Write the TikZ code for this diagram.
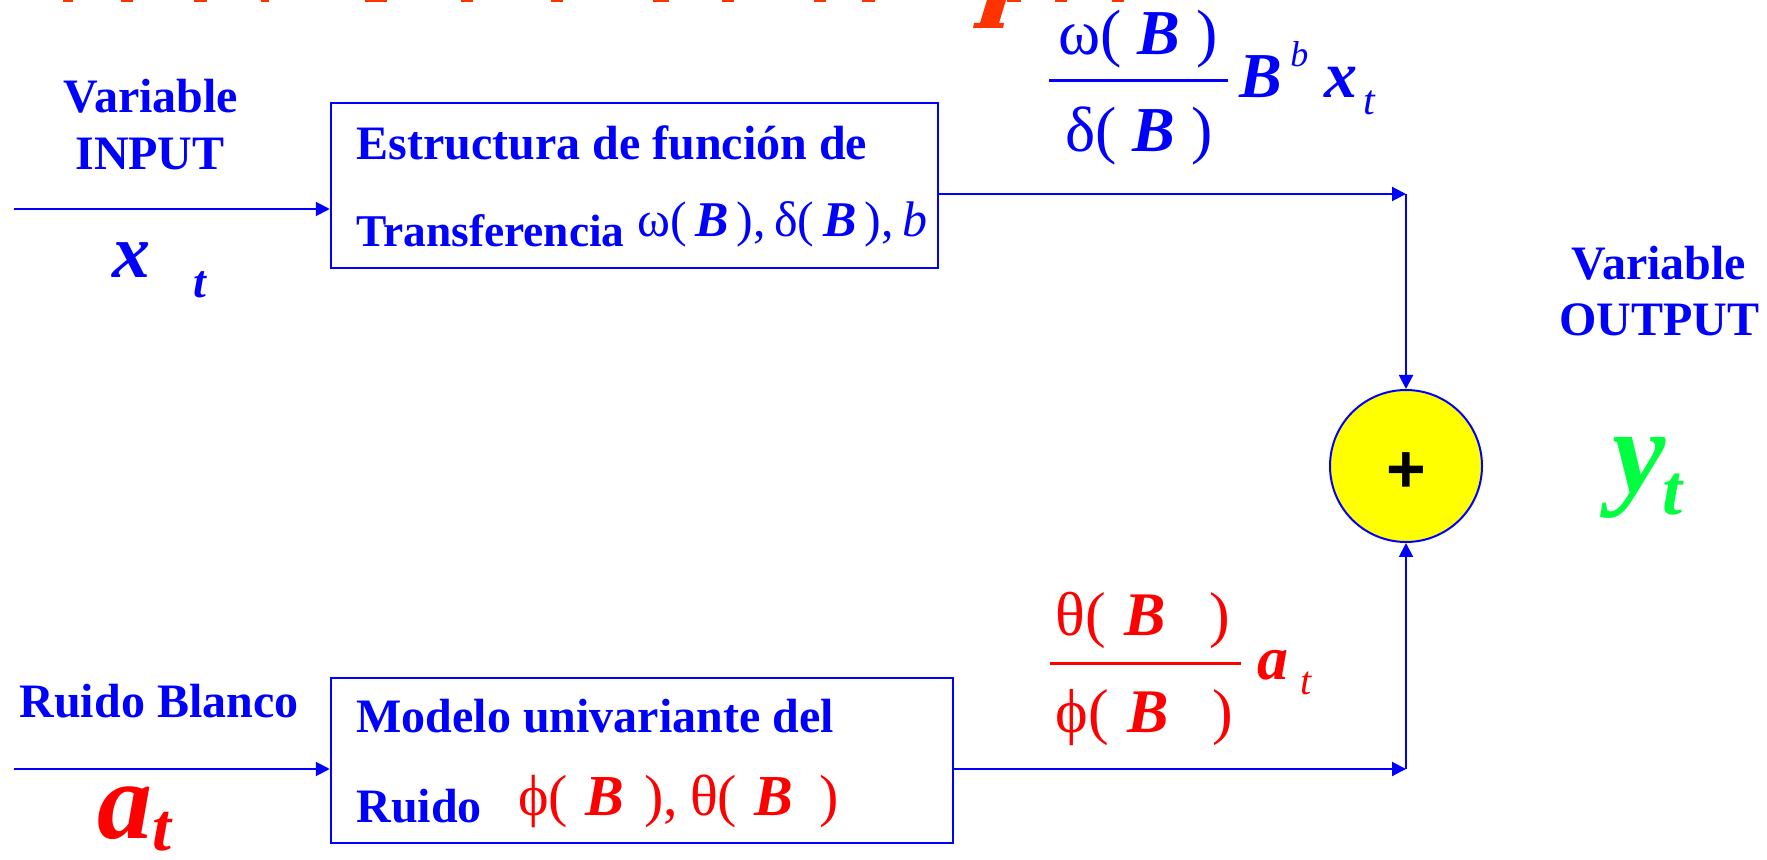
\documentclass[tikz,border=0pt]{standalone}
\usepackage{fontspec}
\setmainfont{Liberation Serif}
\newfontfamily\sansf{Liberation Sans}
\usetikzlibrary{arrows.meta}
\definecolor{pblue}{RGB}{0,0,255}
\definecolor{pred}{RGB}{255,0,0}
\definecolor{pgreen}{RGB}{0,255,64}
\definecolor{porange}{RGB}{255,51,0}
\definecolor{pyellow}{RGB}{255,255,0}
\newcommand\fsz[1]{\fontsize{#1}{#1}\selectfont}
\newcommand\bi[1]{\textbf{\textit{#1}}}
\begin{document}
\begin{tikzpicture}[x=0.5pt,y=-0.5pt,
  boxst/.style={draw=pblue,line width=1.25pt,rectangle,inner sep=0pt},
  txt/.style={inner sep=0pt,anchor=base west,text=pblue,font=\fsz{24}\bfseries},
  ctxt/.style={inner sep=0pt,anchor=base,text=pblue,font=\fsz{24}\bfseries},
  sym/.style={inner sep=0pt,anchor=base west},
  csym/.style={inner sep=0pt,anchor=base},
  conn/.style={draw=pblue,line width=1pt},
  arr/.style={conn,-{Triangle[length=7pt,width=7pt]}},
  fbar/.style={line width=1.5pt},
]
\fill[white] (0,0) rectangle (1767,860);
\useasboundingbox (0,0) rectangle (1767,860);

% clipped title fragments at the top edge
\foreach \cx/\w in {68/10,127/12,200/13,265/8,376/22,467/12,557/12,661/16,728/12,820/12,868/13,1014/14,1061/12,1118/12}{
  \fill[porange] ({\cx-\w/2},0) rectangle ({\cx+\w/2},2.5);
}
\fill[porange] (987,0) -- (1006,0) -- (999,23) -- (1004,23) -- (1003,28) -- (973,28) -- (974,23) -- (980,23) -- cycle;

% boxes
\node[boxst,minimum width=303.5pt,minimum height=82.5pt] (tbox) at (634.5,185.5) {};
\node[boxst,minimum width=311pt,minimum height=82.5pt] (bbox) at (642,760.5) {};

\node[txt] (t1) at (356,160) {Estructura de función de};
\node[txt,font=\fsz{22.7}\bfseries] (t2) at (356,247) {Transferencia};
\node[sym,text=pblue,font=\fsz{25}] (tm) at (637,237) {ω(\,\bi{B}\,),\,δ(\,\bi{B}\,),\,\textit{b}};

\node[txt] (m1) at (356,733) {Modelo univariante del};
\node[txt] (m2) at (356,822) {Ruido};
\node[sym,text=pred,font=\fsz{29}] (mm) at (518,815) {ϕ(\hspace{0.3em}\bi{B}\hspace{0.35em}),\hspace{0.2em}θ(\hspace{0.3em}\bi{B}\hspace{0.45em})};

% side labels
\node[ctxt] (vin1) at (151,113) {Variable};
\node[ctxt] (vin2) at (150,170) {INPUT};
\node[sym,text=pblue,font=\fsz{38}] (xx) at (112,278) {\bi{x}};
\node[sym,text=pblue,font=\fsz{23}] (xt) at (193,298) {\bi{t}};

\node[ctxt] (rb) at (159,718) {Ruido Blanco};
\node[sym,text=pred,font=\fsz{55}] (aa) at (97,838) {\bi{a}};
\node[sym,text=pred,font=\fsz{34}] (at) at (152,850) {\bi{t}};

\node[ctxt] (vo1) at (1659,280) {Variable};
\node[ctxt] (vo2) at (1659,336) {OUTPUT};
\node[sym,text=pgreen,font=\fsz{60}] (yy) at (1612,493) {\bi{y}};
\node[sym,text=pgreen,font=\fsz{36}] (yt) at (1662,515) {\bi{t}};

% summing junction
\node[circle,draw=pblue,fill=pyellow,line width=1pt,minimum size=76pt,inner sep=0pt] (sum) at (1406,466) {};
\node[font=\sansf\bfseries\fsz{34},inner sep=0pt] (plus) at (1406,473) {+};

% top fraction
\node[csym,text=pblue,font=\fsz{32}] (n1) at (1138,55) {ω(\ \bi{B}\ )};
\draw[pblue,fbar] (1049,81) -- (1228,81);
\node[csym,text=pblue,font=\fsz{32}] (d1) at (1139,152) {δ(\ \bi{B}\ )};
\node[sym,text=pblue,font=\fsz{32}] (bb) at (1239,98) {\bi{B}};
\node[sym,text=pblue,font=\fsz{18}] (bsup) at (1290,67) {\textit{b}};
\node[sym,text=pblue,font=\fsz{33}] (bx) at (1324,98) {\bi{x}};
\node[sym,text=pblue,font=\fsz{21}] (bxt) at (1363,115) {\textit{t}};

% bottom fraction
\node[sym,text=pred,font=\fsz{31}] (n2) at (1055,636) {θ(\hspace{0.3em}\bi{B}\hspace{0.7em})};
\draw[pred,fbar] (1050,664) -- (1241,664);
\node[sym,text=pred,font=\fsz{31}] (d2) at (1055,733) {ϕ(\hspace{0.3em}\bi{B}\hspace{0.7em})};
\node[sym,text=pred,font=\fsz{31}] (fa) at (1257,680) {\bi{a}};
\node[sym,text=pred,font=\fsz{20}] (fat) at (1300,695) {\textit{t}};

% connectors
\coordinate (in1) at (14,209);
\coordinate (in2) at (14,769);
\coordinate (c1) at (1406,194);
\coordinate (c2) at (1406,769);
\draw[arr] (in1) -- (in1 -| tbox.west);
\draw[arr] (in2) -- (in2 -| bbox.west);
\draw[arr] (c1 -| tbox.east) -- (c1);
\draw[arr] (c1) -- (sum.north);
\draw[arr] (c2 -| bbox.east) -- (c2);
\draw[arr] (c2) -- (sum.south);
\end{tikzpicture}
\end{document}
